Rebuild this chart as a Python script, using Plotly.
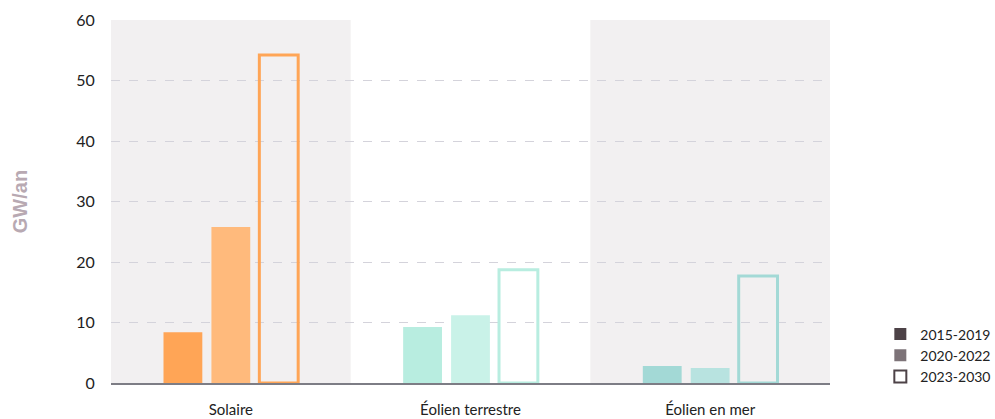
import plotly.graph_objects as go

categories = ["Solaire", "Éolien terrestre", "Éolien en mer"]
periods = ["2015-2019", "2020-2022", "2023-2030"]
v_2015_2019 = [8.4, 9.25, 2.8]
v_2020_2022 = [25.8, 11.2, 2.5]
v_2023_2030 = [54.2, 18.7, 17.7]
y_ticks = [0, 10, 20, 30, 40, 50, 60]

col_dark = ["#FFA556", "#B8EDE0", "#A3D9D6"]
col_light = ["#FFBA7C", "#C9F2E8", "#B8E3E0"]
legend_cols = ["#4d4247", "#7d7378", "#ffffff"]

fig = go.Figure()
fig.add_trace(go.Bar(x=categories, y=v_2015_2019, marker=dict(color=col_dark, line=dict(width=0)),
                     showlegend=False, name=periods[0]))
fig.add_trace(go.Bar(x=categories, y=v_2020_2022, marker=dict(color=col_light, line=dict(width=0)),
                     showlegend=False, name=periods[1]))
fig.add_trace(go.Bar(x=categories, y=v_2023_2030,
                     marker=dict(color="rgba(0,0,0,0)", line=dict(color=col_dark, width=3)),
                     showlegend=False, name=periods[2]))

for i, p in enumerate(periods):
    fig.add_trace(go.Scatter(
        x=[None], y=[None], mode="markers", name=p,
        marker=dict(symbol="square", size=12, color=legend_cols[i],
                    line=dict(color="#4d4247", width=2 if i == 2 else 0)),
    ))

# alternating background bands
for i in (0, 2):
    fig.add_shape(type="rect", xref="x", yref="paper", x0=i - 0.5, x1=i + 0.5, y0=0, y1=1,
                  fillcolor="#f2f0f1", line=dict(width=0), layer="below")

fig.add_annotation(text="<b>GW/an</b>", xref="paper", yref="paper", x=-0.127, y=0.5,
                   xanchor="center", yanchor="middle",
                   textangle=-90, showarrow=False,
                   font=dict(size=20, color="#b8a9b2", family="Liberation Sans, Arial, sans-serif"))

fig.update_layout(
    width=995, height=419,
    margin=dict(l=111, r=165, t=20, b=36, autoexpand=False),
    paper_bgcolor="white", plot_bgcolor="white",
    barmode="group", bargap=0.4, bargroupgap=0.19,
    font=dict(family="Lato, Open Sans, sans-serif", color="#222222"),
    legend=dict(x=1.07, xanchor="left", y=-0.026, yanchor="bottom",
                font=dict(size=14, color="#222222"), itemwidth=30,
                bgcolor="rgba(0,0,0,0)", tracegroupgap=0),
)
fig.update_xaxes(range=[-0.5, 2.5], showline=True, linecolor="#7d7d85", linewidth=2,
                 ticks="outside", ticklen=12, tickcolor="rgba(0,0,0,0)",
                 tickfont=dict(size=15, color="#222222"), showgrid=False)
fig.update_yaxes(range=[0, 60], tickvals=y_ticks, showgrid=True, gridcolor="#d4d3db",
                 griddash="dash", gridwidth=1, zeroline=False,
                 ticks="outside", ticklen=12, tickcolor="rgba(0,0,0,0)",
                 tickfont=dict(size=16, color="#222222"))

fig.write_html("out.html")
